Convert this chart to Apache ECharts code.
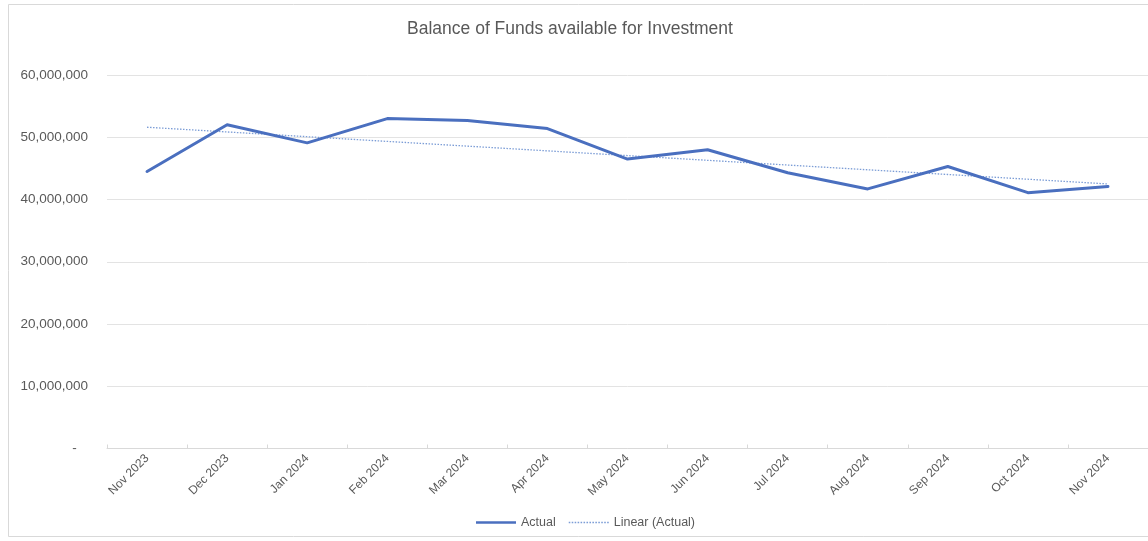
<!DOCTYPE html>
<html>
<head>
<meta charset="utf-8">
<title>Balance of Funds available for Investment</title>
<script src="https://cdn.jsdelivr.net/npm/echarts@6/dist/echarts.min.js"></script>
<style>
  html, body { margin: 0; padding: 0; background: #ffffff; }
  #chart { width: 1148px; height: 541px; }
</style>
</head>
<body>
<div id="chart"></div>
<script>
// Month labels along the category axis
const months = ['Nov 2023', 'Dec 2023', 'Jan 2024', 'Feb 2024', 'Mar 2024', 'Apr 2024', 'May 2024',
                'Jun 2024', 'Jul 2024', 'Aug 2024', 'Sep 2024', 'Oct 2024', 'Nov 2024'];

// Month-end balance of funds available for investment
const actual = [44500000, 52000000, 49100000, 53000000, 52700000, 51400000, 46500000,
                48000000, 44300000, 41700000, 45300000, 41100000, 42100000];

// Value axis range
const yMin = 0;
const yMax = 60000000;
const yStep = 10000000;

// Least-squares linear trend of the actual series
function linearTrend(values) {
  const n = values.length;
  let sx = 0, sy = 0, sxx = 0, sxy = 0;
  values.forEach((v, i) => { sx += i; sy += v; sxx += i * i; sxy += i * v; });
  const slope = (n * sxy - sx * sy) / (n * sxx - sx * sx);
  const intercept = (sy - slope * sx) / n;
  return values.map((_, i) => intercept + slope * i);
}
const trend = linearTrend(actual);

// Legend glyphs: solid bar for the actual line, row of dots for the trend
const solidIcon = 'path://M0,3L40,3L40,5.5L0,5.5Z';
let dotted = '';
for (let x = 0; x < 40; x += 3) dotted += 'M' + x + ',3.6L' + (x + 1.6) + ',3.6L' + (x + 1.6) + ',4.9L' + x + ',4.9Z';
const dottedIcon = 'path://' + dotted;

const textColor = '#595959';
const font = 'Liberation Sans, Arial, sans-serif';

const chart = echarts.init(document.getElementById('chart'), null, { renderer: 'canvas' });
chart.setOption({
  backgroundColor: '#ffffff',
  animation: false,
  textStyle: { fontFamily: font },
  graphic: [{
    type: 'rect',
    silent: true,
    z: -10,
    shape: { x: 8.5, y: 4.5, width: 1160, height: 532 },
    style: { fill: 'none', stroke: '#d9d9d9', lineWidth: 1 }
  }],
  title: {
    text: 'Balance of Funds available for Investment',
    left: 565,
    textAlign: 'center',
    top: 15,
    textStyle: { fontFamily: font, fontSize: 17.5, fontWeight: 'normal', color: textColor }
  },
  legend: {
    top: 511,
    left: 471,
    itemWidth: 40,
    itemHeight: 8,
    itemGap: 13,
    textStyle: { fontFamily: font, fontSize: 12.5, color: textColor },
    data: [
      { name: 'Actual', icon: solidIcon },
      { name: 'Linear (Actual)', icon: dottedIcon }
    ]
  },
  grid: { left: 107, top: 75, width: 1049, bottom: 92.5, containLabel: false },
  xAxis: {
    type: 'category',
    data: months,
    boundaryGap: true,
    axisLine: { lineStyle: { color: '#d9d9d9', width: 1 } },
    axisTick: { show: true, length: 4, inside: true, lineStyle: { color: '#d9d9d9' } },
    axisLabel: { rotate: 45, color: textColor, fontFamily: font, fontSize: 12, margin: 8, interval: 0 },
    splitLine: { show: false }
  },
  yAxis: {
    type: 'value',
    min: yMin,
    max: yMax,
    interval: yStep,
    axisLine: { show: false },
    axisTick: { show: false },
    splitLine: { lineStyle: { color: '#e3e3e3', width: 1 } },
    axisLabel: {
      color: textColor,
      fontFamily: font,
      fontSize: 13.5,
      margin: 19,
      formatter: v => v === 0 ? '-   ' : v.toLocaleString('en-US')
    }
  },
  series: [
    {
      name: 'Actual',
      type: 'line',
      data: actual,
      symbol: 'none',
      smooth: false,
      color: '#4a6fbf',
      lineStyle: { color: '#4a6fbf', width: 3, cap: 'round', join: 'round' },
      z: 3
    },
    {
      name: 'Linear (Actual)',
      type: 'line',
      data: trend,
      symbol: 'none',
      color: '#7c9dd6',
      lineStyle: { color: '#7c9dd6', width: 1.3, type: [1.5, 1.5] },
      z: 2
    }
  ]
});
</script>
</body>
</html>
